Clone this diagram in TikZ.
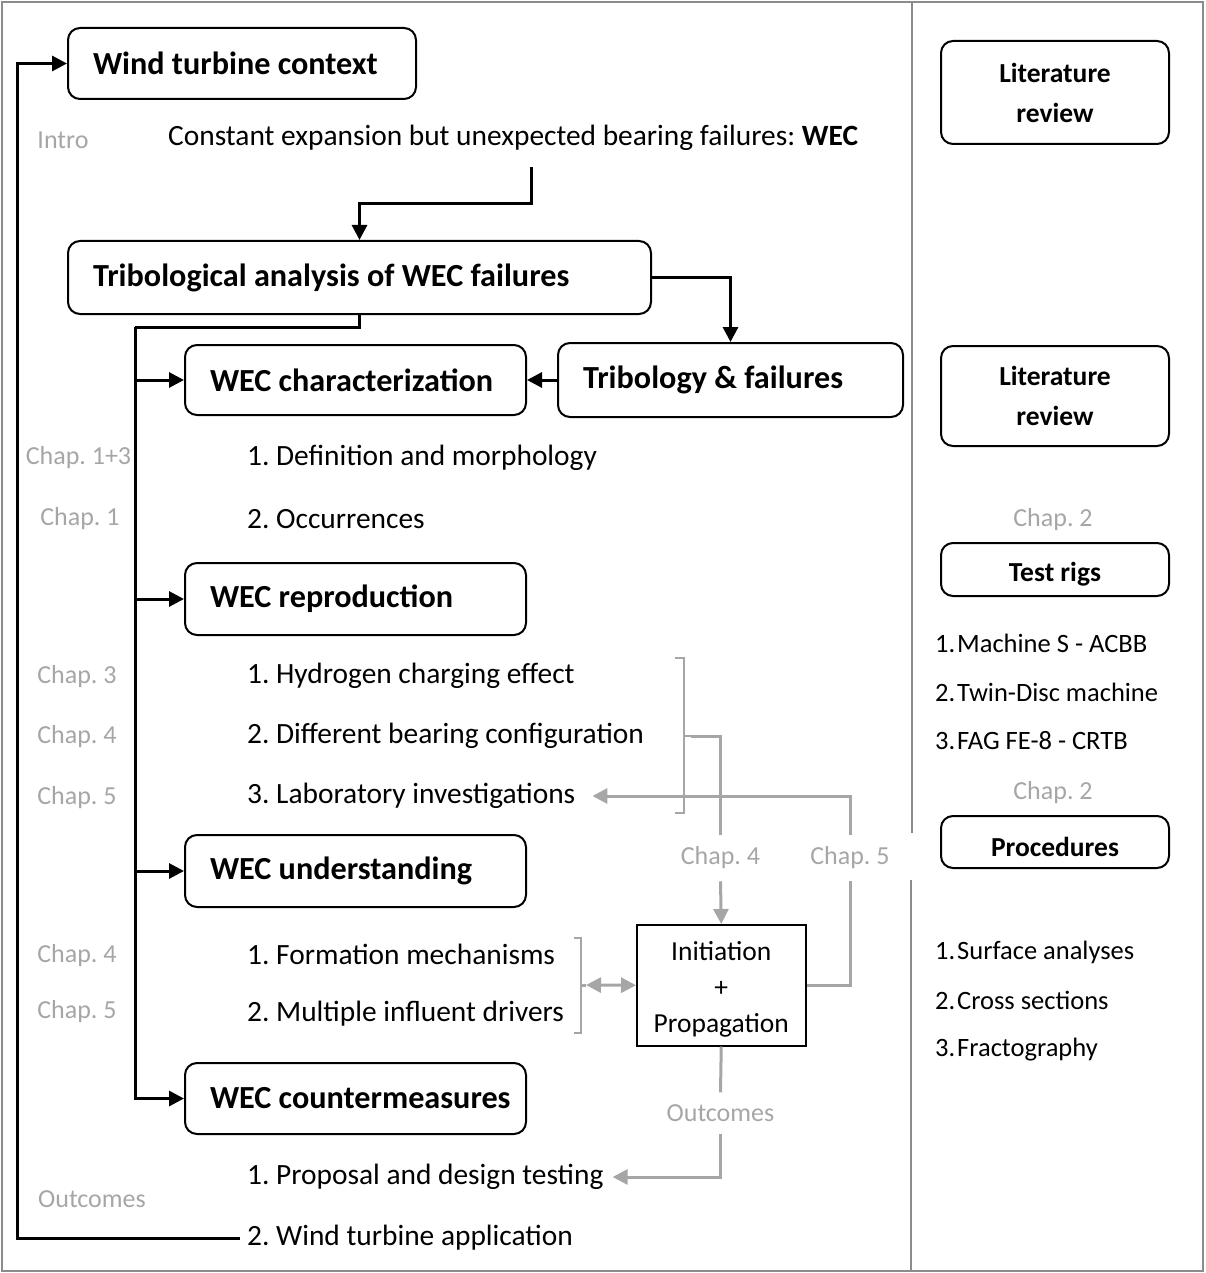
\documentclass[tikz,border=0pt]{standalone}
\usepackage{fontspec}
\setmainfont{Carlito}
\usetikzlibrary{arrows.meta}
\definecolor{lg}{RGB}{166,166,166}
\definecolor{framec}{RGB}{140,140,140}
\frenchspacing
\tikzset{
  box/.style={draw, line width=2pt, rounded corners=12pt, font=\fontsize{32.2}{36}\selectfont\bfseries, align=left, inner xsep=25pt, inner ysep=0pt, anchor=north west},
  rbox/.style={draw, line width=2pt, rounded corners=12pt, font=\fontsize{27.5}{40}\selectfont\bfseries, align=center, minimum width=228pt, inner sep=0pt, anchor=north west},
  item/.style={font=\fontsize{29.4}{34}\selectfont, anchor=west, inner sep=0pt},
  ritem/.style={font=\fontsize{26.5}{30}\selectfont, anchor=west, inner sep=0pt},
  glab/.style={text=lg, font=\fontsize{26}{30}\selectfont, inner sep=0pt},
  glabgap/.style={glab, inner ysep=12pt},
  conn/.style={line width=3pt},
  arr/.style={-{Triangle[length=15pt,width=15pt]}},
  gconn/.style={draw=lg, line width=3pt},
  garr/.style={-{Triangle[length=15pt,width=15pt]}},
  brk/.style={draw=lg, line width=1.5pt},
}
\newcommand{\rnum}[1]{\makebox[22pt][l]{#1}}
\newcommand{\bt}[2]{\makebox[#1][l]{#2}}
\newcommand{\dn}[2]{\raisebox{-#1}[\height][\depth]{#2}}
\begin{document}
\begin{tikzpicture}[x=1pt,y=-1pt]
\useasboundingbox (0,0) rectangle (1205,1273);
% frame and divider
\draw[framec, line width=2pt] (2,2) rectangle (1203,1271);
\draw[framec, line width=2pt] (912,2) -- (912,833);
\draw[framec, line width=2pt] (911,880) -- (911,1271);

% main boxes
\node[box, minimum height=71pt] (wtc) at (67,27) {\bt{298pt}{Wind turbine context}};
\node[box, minimum height=73pt] (trib) at (67,240) {\bt{533pt}{Tribological analysis of WEC failures}};
\node[box, minimum height=70pt] (wchar) at (184,344) {\bt{291pt}{WEC characterization}};
\node[box, minimum height=74pt] (tf) at (557,342) {\bt{295pt}{Tribology \& failures}};
\node[box, minimum height=72pt] (wrep) at (184,562) {\bt{291pt}{WEC reproduction}};
\node[box, minimum height=72pt] (wund) at (184,834) {\bt{291pt}{WEC understanding}};
\node[box, minimum height=71pt] (wcm) at (184,1062) {\bt{291pt}{WEC countermeasures}};

% right column boxes
\node[rbox, minimum height=103pt] (lr1) at (940,40) {Literature\\review};
\node[rbox, minimum height=100pt] (lr2) at (940,345) {Literature\\review};
\node[rbox, minimum height=53pt] (tr) at (940,542) {\dn{5pt}{Test rigs}};
\node[rbox, minimum height=52pt] (proc) at (940,815) {\dn{5pt}{Procedures}};

% initiation box
\node[draw, line width=1.5pt, minimum width=169pt, minimum height=121pt, inner sep=0pt, anchor=north west, align=center, font=\fontsize{27.5}{36}\selectfont] (init) at (636,924) {\dn{4pt}{Initiation}\\\dn{4pt}{+}\\\dn{4pt}{Propagation}};

% items
\node[item] (cst) at (168,138) {Constant expansion but unexpected bearing failures: \textbf{WEC}};
\node[item] (i11) at (247,458) {1. Definition and morphology};
\node[item] (i12) at (247,519) {2. Occurrences};
\node[item] (i21) at (247,676) {1. Hydrogen charging effect};
\node[item] (i22) at (247,736) {2. Different bearing configuration};
\node[item] (i23) at (247,796) {3. Laboratory investigations};
\node[item] (i31) at (247,954) {1. Formation mechanisms};
\node[item] (i32) at (247,1014) {2. Multiple influent drivers};
\node[item] (i41) at (247,1177) {1. Proposal and design testing};
\node[item] (i42) at (247,1238) {2. Wind turbine application};

% right items
\node[ritem] (r11) at (935,643) {\rnum{1.}Machine S - ACBB};
\node[ritem] (r12) at (935,692) {\rnum{2.}Twin-Disc machine};
\node[ritem] (r13) at (935,741) {\rnum{3.}FAG FE-8 - CRTB};
\node[ritem] (r21) at (935,952) {\rnum{1.}Surface analyses};
\node[ritem] (r22) at (935,1000) {\rnum{2.}Cross sections};
\node[ritem] (r23) at (935,1050) {\rnum{3.}Fractography};

% gray labels
\node[glab] (intro) at (63,140) {Intro};
\node[glab] (c13) at (78.5,458) {Chap. 1+3};
\node[glab] (c1) at (80,519) {Chap. 1};
\node[glab] (c3) at (77,677) {Chap. 3};
\node[glab] (c4a) at (77,737) {Chap. 4};
\node[glab] (c5a) at (77,798) {Chap. 5};
\node[glab] (c4b) at (77,956) {Chap. 4};
\node[glab] (c5b) at (77,1012) {Chap. 5};
\node[glab] (outl) at (92,1199) {Outcomes};
\node[glab] (rc2a) at (1053,520) {Chap. 2};
\node[glab] (rc2b) at (1053,793) {Chap. 2};
\node[glabgap] (ch4) at (720.5,858) {Chap. 4};
\node[glabgap] (ch5) at (850,858) {Chap. 5};
\node[glabgap] (outc) at (720.5,1113) {Outcomes};

% black connectors
\coordinate (lx) at (17,0);
\draw[conn,arr] ([xshift=-7pt]i42.west) -- (i42.west -| lx) -- (wtc.west -| lx) -- (wtc.west);
\coordinate (cs) at (531,167);
\coordinate (cb) at (531,204);
\draw[conn,arr] (cs) -- (cb) -| (trib.north);
\draw[conn,arr] (trib.east) -| (tf.north);
\draw[conn,arr] (tf.west) -- (wchar.east);
\coordinate (tk) at (135,327);
\draw[conn] (trib.south) |- (tk);
\draw[conn,arr] (tk) |- (wcm.west);
\draw[conn,arr] (tk |- wchar.west) -- (wchar.west);
\draw[conn,arr] (tk |- wrep.west) -- (wrep.west);
\draw[conn,arr] (tk |- wund.west) -- (wund.west);

% gray brackets and connectors
\draw[brk] (675,658) -- (684,658) -- (684,813) -- (675,813);
\draw[brk] (684,736) -- (692,736);
\coordinate (b1) at (691,736);
\draw[gconn] (b1) -| (ch4.north);
\draw[gconn,garr] (ch4.south) -- (init.north);
\draw[gconn] (init.east) -| (ch5.south);
\draw[gconn,garr] (ch5.north) |- ([xshift=17pt]i23.east);
\draw[brk] (574,938) -- (581,938) -- (581,1033) -- (574,1033);
\coordinate (b2) at (586,985);
\draw[gconn] (581,985) -- (b2);
\draw[gconn,{Triangle[length=15pt,width=15pt]}-{Triangle[length=15pt,width=15pt]}] (b2) -- (init.west);
\draw[gconn] (init.south) -- (outc.north);
\draw[gconn,garr] (outc.south) |- ([xshift=9pt]i41.east);
\end{tikzpicture}
\end{document}
